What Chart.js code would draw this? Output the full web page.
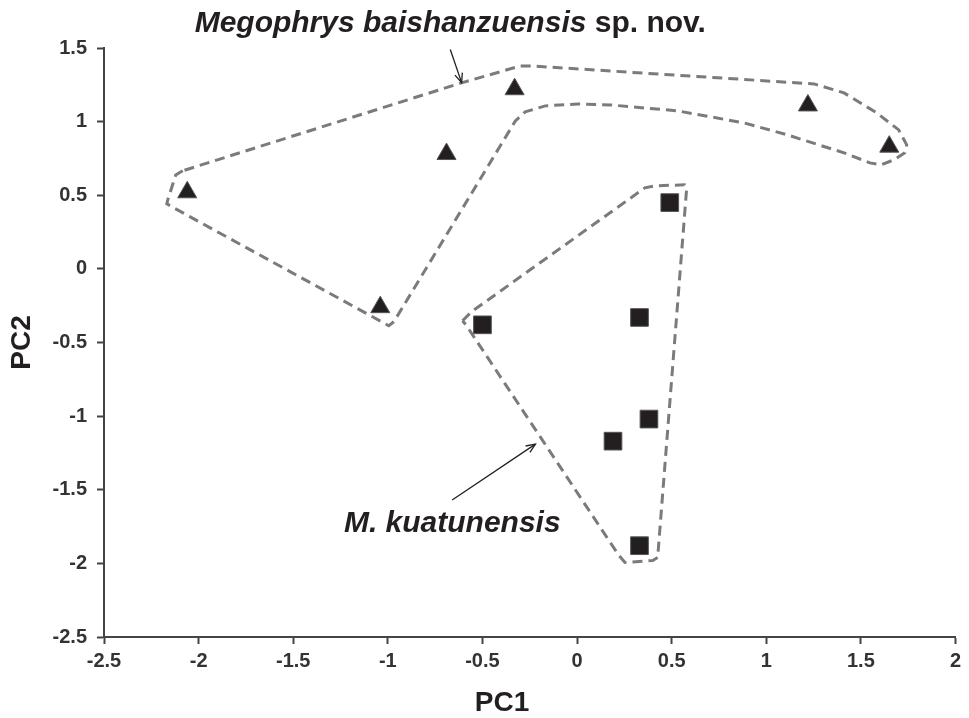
<!DOCTYPE html>
<html>
<head>
<meta charset="utf-8">
<script src="https://cdn.jsdelivr.net/npm/chart.js@4.4.1/dist/chart.umd.min.js"></script>
<style>
  html, body { margin: 0; padding: 0; background: #fff; }
  #wrap { width: 969px; height: 718px; }
</style>
</head>
<body>
<div id="wrap"><canvas id="pcaChart"></canvas></div>
<script>
  // PCA scores
  const baishanPC1 = [-2.06, -1.04, -0.69, -0.33, 1.22, 1.65];
  const baishanPC2 = [0.52, -0.26, 0.78, 1.22, 1.11, 0.83];
  const kuatunPC1 = [0.49, 0.33, -0.50, 0.38, 0.19, 0.33];
  const kuatunPC2 = [0.45, -0.33, -0.38, -1.02, -1.17, -1.88];

  // dashed outlines round each group
  const baishanHullX = [-2.084, -2.121, -2.163, -2.168, -2.132, -0.995, -0.968, -0.326, -0.274, -0.168, 0.005, 0.179, 0.532, 0.884, 1.111, 1.411, 1.547, 1.605, 1.674, 1.732, 1.742, 1.70, 1.584, 1.411, 1.253, -0.242, -0.30, -0.611, -2.084];
  const baishanHullY = [0.666, 0.638, 0.469, 0.442, 0.415, -0.386, -0.359, 1.005, 1.066, 1.107, 1.12, 1.113, 1.073, 0.991, 0.91, 0.788, 0.72, 0.706, 0.74, 0.788, 0.842, 0.944, 1.059, 1.195, 1.256, 1.378, 1.378, 1.263, 0.666];
  const kuatunHullX = [-0.605, -0.558, 0.358, 0.411, 0.568, 0.579, 0.426, 0.40, 0.253, 0.221, -0.584, -0.605];
  const kuatunHullY = [-0.352, -0.291, 0.55, 0.564, 0.571, 0.543, -1.96, -1.98, -1.994, -1.946, -0.386, -0.352];

  // label arrows (tail -> head)
  const baishanArrowX = [-0.67, -0.61];
  const baishanArrowY = [1.49, 1.265];
  const kuatunArrowX = [-0.66, -0.22];
  const kuatunArrowY = [-1.57, -1.19];

  const xTicks = [-2.5, -2, -1.5, -1, -0.5, 0, 0.5, 1, 1.5, 2];
  const yTicks = [-2.5, -2, -1.5, -1, -0.5, 0, 0.5, 1, 1.5];
  const xTitle = 'PC1';
  const yTitle = 'PC2';

  function toPoints(xs, ys) {
    return xs.map((x, i) => ({ x: x, y: ys[i] }));
  }

  const FONT = '"Liberation Sans", Arial, sans-serif';
  const hullStyle = {
    showLine: true,
    fill: false,
    tension: 0,
    pointRadius: 0,
    borderColor: '#7b7b7b',
    borderWidth: 3,
    borderDash: [10, 6],
    order: 3
  };
  const arrowStyle = {
    showLine: true,
    fill: false,
    pointRadius: 0,
    borderColor: '#222',
    borderWidth: 1.3,
    order: 2
  };

  function drawHead(ctx, x0, y0, x1, y1) {
    const ang = Math.atan2(y1 - y0, x1 - x0);
    const len = 10;
    ctx.beginPath();
    ctx.moveTo(x1 - len * Math.cos(ang - 0.4), y1 - len * Math.sin(ang - 0.4));
    ctx.lineTo(x1, y1);
    ctx.lineTo(x1 - len * Math.cos(ang + 0.4), y1 - len * Math.sin(ang + 0.4));
    ctx.stroke();
  }

  const annotations = {
    id: 'annotations',
    afterDraw(chart) {
      const ctx = chart.ctx;
      const xs = chart.scales.x, ys = chart.scales.y;
      const area = chart.chartArea;
      ctx.save();
      ctx.strokeStyle = '#222';
      ctx.lineWidth = 1.3;
      drawHead(ctx, xs.getPixelForValue(baishanArrowX[0]), ys.getPixelForValue(baishanArrowY[0]),
        xs.getPixelForValue(baishanArrowX[1]), ys.getPixelForValue(baishanArrowY[1]));
      drawHead(ctx, xs.getPixelForValue(kuatunArrowX[0]), ys.getPixelForValue(kuatunArrowY[0]),
        xs.getPixelForValue(kuatunArrowX[1]), ys.getPixelForValue(kuatunArrowY[1]));

      ctx.fillStyle = '#231f20';
      ctx.textBaseline = 'alphabetic';
      ctx.textAlign = 'left';
      // species labels
      let tx = xs.getPixelForValue(-2.021);
      ctx.font = 'italic bold 30px ' + FONT;
      const sp = 'Megophrys baishanzuensis';
      ctx.fillText(sp, tx, 32);
      tx += ctx.measureText(sp + ' ').width;
      ctx.font = 'bold 30px ' + FONT;
      ctx.fillText('sp. nov.', tx, 32);

      ctx.font = 'italic bold 30px ' + FONT;
      ctx.fillText('M. kuatunensis', xs.getPixelForValue(-1.232), ys.getPixelForValue(-1.79));

      // axis titles
      ctx.font = 'bold 28px ' + FONT;
      ctx.textAlign = 'center';
      ctx.textBaseline = 'middle';
      ctx.fillText(xTitle, 502, 703);
      ctx.translate(22, (area.top + area.bottom) / 2);
      ctx.rotate(-Math.PI / 2);
      ctx.fillText(yTitle, 0, 0);
      ctx.restore();
    }
  };

  const axisCommon = {
    type: 'linear',
    grid: {
      display: true,
      drawOnChartArea: false,
      drawTicks: true,
      tickLength: 7,
      tickColor: '#444',
      tickWidth: 2
    },
    border: { display: true, color: '#444', width: 2 },
    ticks: {
      color: '#333',
      font: { family: FONT, size: 20, weight: 'bold' },
      autoSkip: false,
      maxRotation: 0
    }
  };

  const config = {
    type: 'scatter',
    data: {
      datasets: [
        {
          label: 'Megophrys baishanzuensis sp. nov.',
          data: toPoints(baishanPC1, baishanPC2),
          pointStyle: 'triangle',
          pointRadius: 11,
          backgroundColor: '#231f20',
          borderColor: '#555',
          borderWidth: 1,
          order: 1
        },
        {
          label: 'M. kuatunensis',
          data: toPoints(kuatunPC1, kuatunPC2),
          pointStyle: 'rect',
          pointRadius: 12.5,
          backgroundColor: '#231f20',
          borderColor: '#555',
          borderWidth: 1,
          order: 1
        },
        Object.assign({ label: 'hull1', data: toPoints(baishanHullX, baishanHullY) }, hullStyle),
        Object.assign({ label: 'hull2', data: toPoints(kuatunHullX, kuatunHullY) }, hullStyle),
        Object.assign({ label: 'arrow1', data: toPoints(baishanArrowX, baishanArrowY) }, arrowStyle),
        Object.assign({ label: 'arrow2', data: toPoints(kuatunArrowX, kuatunArrowY) }, arrowStyle)
      ]
    },
    options: {
      responsive: true,
      maintainAspectRatio: false,
      devicePixelRatio: 1,
      animation: false,
      layout: { padding: { top: 48, right: 10, left: 0, bottom: 0 } },
      plugins: {
        legend: { display: false },
        tooltip: { enabled: false }
      },
      scales: {
        x: Object.assign({}, axisCommon, {
          min: -2.5,
          max: 2,
          ticks: Object.assign({}, axisCommon.ticks, {
            padding: 5,
            callback: (v) => String(xTicks.find(t => Math.abs(t - v) < 1e-9))
          }),
          afterBuildTicks: (scale) => { scale.ticks = xTicks.map(v => ({ value: v })); },
          afterFit: (scale) => { scale.height = 81; }
        }),
        y: Object.assign({}, axisCommon, {
          min: -2.5,
          max: 1.5,
          ticks: Object.assign({}, axisCommon.ticks, {
            padding: 10,
            callback: (v) => String(yTicks.find(t => Math.abs(t - v) < 1e-9))
          }),
          afterBuildTicks: (scale) => { scale.ticks = yTicks.map(v => ({ value: v })); },
          afterFit: (scale) => { scale.width = 104; }
        })
      }
    },
    plugins: [annotations]
  };

  const myChart = new Chart(document.getElementById('pcaChart'), config);
</script>
</body>
</html>
